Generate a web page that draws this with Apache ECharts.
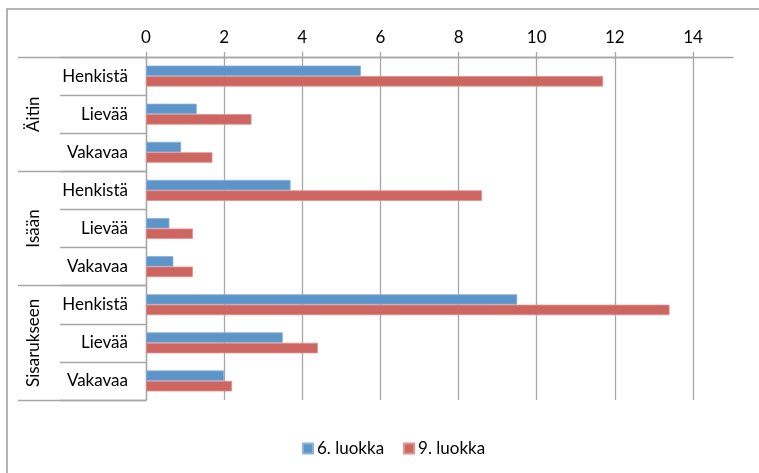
<!DOCTYPE html>
<html>
<head>
<meta charset="utf-8">
<script src="https://cdn.jsdelivr.net/npm/echarts@6/dist/echarts.min.js"></script>
<style>html,body{margin:0;padding:0;background:#fff}#c{width:759px;height:473px}</style>
</head>
<body>
<div id="c"></div>
<script>
var categories = ['Henkistä','Lievää','Vakavaa','Henkistä','Lievää','Vakavaa','Henkistä','Lievää','Vakavaa'];
var groups = ['Äitin','Isään','Sisarukseen'];
var seriesNames = ['6. luokka','9. luokka'];
var luokka6 = [5.5, 1.3, 0.9, 3.7, 0.6, 0.7, 9.5, 3.5, 2.0];
var luokka9 = [11.7, 2.7, 1.7, 8.6, 1.2, 1.2, 13.4, 4.4, 2.2];
var xTicks = {min: 0, max: 14, interval: 2};

var FONT = 'Lato';
var FS = 17;
var GRID = '#a6a6a6';
var chart = echarts.init(document.getElementById('c'));
chart.setOption({
  animation: false,
  backgroundColor: '#fff',
  textStyle: {fontFamily: FONT},
  graphic: [{
    type: 'rect', silent: true, z: -1,
    shape: {x: 7, y: 9, width: 800, height: 500},
    style: {fill: 'none', stroke: '#a0a0a0', lineWidth: 1.6}
  }],
  grid: [
    {left: 146, right: 66, top: 57, bottom: 73, containLabel: false},
    {left: 146, right: 26, top: 57, bottom: 73, containLabel: false}
  ],
  legend: {
    data: seriesNames,
    left: 297, top: 435,
    icon: 'rect', itemWidth: 10, itemHeight: 10, itemGap: 19,
    textStyle: {fontFamily: FONT, fontSize: FS, color: '#000', padding: [0,0,0,-1]}
  },
  xAxis: [{
    type: 'value', gridIndex: 0, position: 'top',
    min: xTicks.min, max: xTicks.max, interval: xTicks.interval,
    axisLine: {show: true, lineStyle: {color: GRID, width: 1.3}},
    axisTick: {show: true, length: 5, lineStyle: {color: GRID, width: 1.3}},
    axisLabel: {fontFamily: FONT, fontSize: FS, color: '#000', margin: 11},
    splitLine: {show: true, lineStyle: {color: GRID, width: 1.3}}
  }, {
    type: 'value', gridIndex: 1, position: 'top', min: 0, max: 1,
    axisLine: {show: true, lineStyle: {color: GRID, width: 1.3}},
    axisTick: {show: false}, axisLabel: {show: false}, splitLine: {show: false}
  }],
  yAxis: [{
    type: 'category', gridIndex: 0, data: categories, inverse: true,
    axisLine: {show: true, lineStyle: {color: GRID, width: 1.3}},
    axisTick: {show: true, interval: 0, length: 86, lineStyle: {color: GRID, width: 1.3}},
    axisLabel: {interval: 0, fontFamily: FONT, fontSize: FS, color: '#000', margin: 18}
  }, {
    type: 'category', gridIndex: 0, data: groups, inverse: true, position: 'left',
    axisLine: {show: false},
    axisTick: {show: true, interval: 0, length: 128, lineStyle: {color: GRID, width: 1.3}},
    axisLabel: {interval: 0, hideOverlap: false, fontFamily: FONT, fontSize: FS, color: '#000', rotate: 90, margin: 104}
  }, {
    type: 'category', gridIndex: 1, show: false, data: groups
  }],
  series: [{
    name: seriesNames[0], type: 'bar', xAxisIndex: 0, yAxisIndex: 0,
    data: luokka6, barGap: '0%', barCategoryGap: '45%',
    itemStyle: {color: '#5E95C9', borderColor: '#8CB1DA', borderWidth: 0.8}
  }, {
    name: seriesNames[1], type: 'bar', xAxisIndex: 0, yAxisIndex: 0,
    data: luokka9, barGap: '0%', barCategoryGap: '45%',
    itemStyle: {color: '#CD6561', borderColor: '#E0918D', borderWidth: 0.8}
  }]
});
</script>
</body>
</html>
